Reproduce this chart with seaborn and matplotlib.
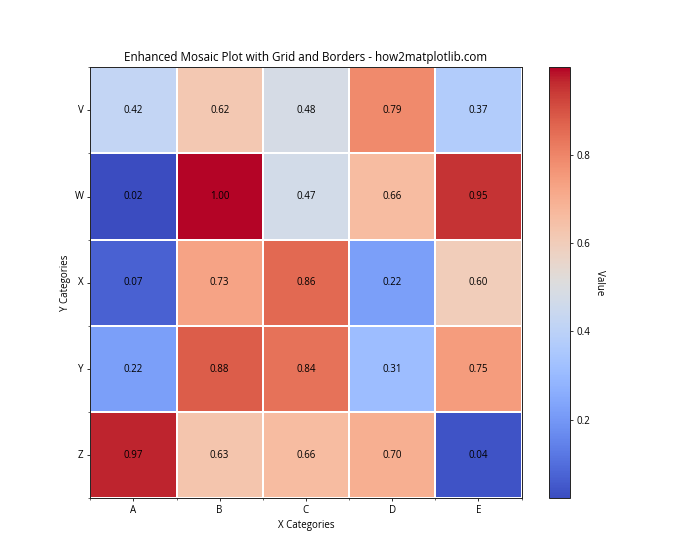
import numpy as np
import pandas as pd
import matplotlib
matplotlib.use("Agg")
import matplotlib.pyplot as plt
import seaborn as sns

plt.rcParams['font.family'] = ['Open Sans', 'DejaVu Sans']

x_categories = ['A', 'B', 'C', 'D', 'E']
y_categories = ['V', 'W', 'X', 'Y', 'Z']
row_v = [0.42, 0.62, 0.48, 0.79, 0.37]
row_w = [0.022, 0.998, 0.47, 0.66, 0.95]
row_x = [0.07, 0.73, 0.86, 0.22, 0.60]
row_y = [0.22, 0.88, 0.84, 0.31, 0.75]
row_z = [0.97, 0.63, 0.66, 0.70, 0.04]

df = pd.DataFrame([row_v, row_w, row_x, row_y, row_z],
                  index=y_categories, columns=x_categories)

fig, ax = plt.subplots(figsize=(10, 8), dpi=70)
sns.heatmap(df, ax=ax, cmap='coolwarm', square=True, linewidths=2,
            linecolor='white', annot=True, fmt='.2f',
            annot_kws={'color': 'black', 'fontsize': 10},
            cbar_kws={'label': ''})

# borders and ticks like a plain matplotlib axes
for s in ax.spines.values():
    s.set_visible(True)
    s.set_color('#222222')
    s.set_linewidth(1)
ax.set_xticks(np.arange(len(x_categories)) + 0.5)
ax.set_yticks(np.arange(len(y_categories)) + 0.5)
ax.set_xticklabels(x_categories, rotation=0)
ax.set_yticklabels(y_categories, rotation=0)
ax.set_xticks(np.arange(len(x_categories) + 1), minor=True)
ax.set_yticks(np.arange(len(y_categories) + 1), minor=True)
ax.tick_params(which='both', left=True, bottom=True, labelsize=10)

cbar = ax.collections[0].colorbar
cbar.outline.set_visible(True)
cbar.outline.set_linewidth(1)
cbar.outline.set_edgecolor('#222222')
cbar.ax.tick_params(labelsize=10)
cbar.set_label('Value', rotation=270, labelpad=15, fontsize=10)

ax.set_title('Enhanced Mosaic Plot with Grid and Borders - how2matplotlib.com', fontsize=12)
ax.set_xlabel('X Categories', fontsize=10)
ax.set_ylabel('Y Categories', fontsize=10)

fig.savefig('out.png', dpi=70)
